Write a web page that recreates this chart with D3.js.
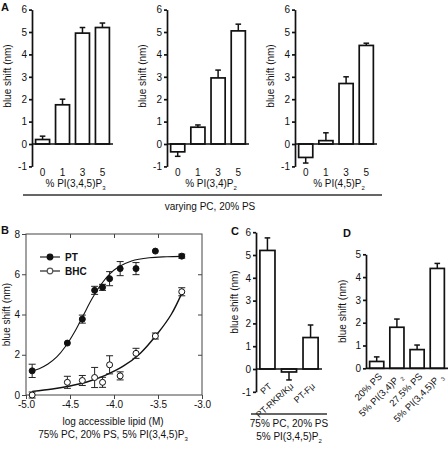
<!DOCTYPE html>
<html><head><meta charset="utf-8">
<script src="https://cdn.jsdelivr.net/npm/d3@7"></script>
<style>
body{margin:0;background:#fff}
text{font-family:"Liberation Sans",Arial,Helvetica,sans-serif;fill:#111}
</style>
</head><body>
<svg id="chart" width="448" height="459"></svg>
<script>
// ---------- Panel A ----------
const aCats = ["0", "1", "3", "5"];
const a1Vals = [0.2, 1.75, 4.95, 5.2];
const a1Errs = [0.15, 0.25, 0.25, 0.2];
const a2Vals = [-0.35, 0.75, 2.95, 5.05];
const a2Errs = [0.2, 0.1, 0.35, 0.3];
const a3Vals = [-0.6, 0.15, 2.7, 4.4];
const a3Errs = [0.25, 0.35, 0.3, 0.1];
const aYTicks = [-1, 0, 1, 2, 3, 4, 5, 6];
const aXLabels = [["% PI(3,4,5)P", "3"], ["% PI(3,4)P", "2"], ["% PI(4,5)P", "2"]];
const aGroupLabel = "varying PC, 20% PS";

// ---------- Panel B ----------
const bXTicks = [-5.0, -4.5, -4.0, -3.5, -3.0];
const bYTicks = [0, 2, 4, 6, 8];
const bLogLipid = [-4.93, -4.53, -4.36, -4.22, -4.13, -4.05, -3.93, -3.75, -3.53, -3.23];
const ptVals = [1.2, 2.58, 3.77, 5.2, 5.35, 5.78, 6.28, 6.28, 7.15, 6.9];
const ptErrs = [0.33, 0, 0.2, 0.2, 0.15, 0.35, 0.35, 0.3, 0, 0.1];
const bhcVals = [0.0, 0.63, 0.72, 0.87, 0.63, 1.5, 0.95, 2.07, 2.93, 5.13];
const bhcErrs = [0.15, 0.3, 0.25, 0.5, 0.25, 0.45, 0.2, 0.25, 0.15, 0.2];
const ptFitX = [-4.93, -4.85, -4.75, -4.65, -4.55, -4.45, -4.35, -4.25, -4.15, -4.05, -3.95, -3.8, -3.6, -3.4, -3.23];
const ptFitY = [1.2, 1.31, 1.54, 1.89, 2.42, 3.12, 3.95, 4.78, 5.48, 6.01, 6.36, 6.66, 6.82, 6.87, 6.89];
const bhcFitX = [-4.93, -4.7, -4.5, -4.3, -4.1, -3.9, -3.7, -3.5, -3.35, -3.23];
const bhcFitY = [0.18, 0.3, 0.45, 0.66, 0.98, 1.42, 2.08, 3.08, 4.0, 5.05];
const bXTitle = "log accessible lipid (M)";
const bNote = ["75% PC, 20% PS, 5% PI(3,4,5)P", "3"];
const bLegend = ["PT", "BHC"];

// ---------- Panel C ----------
const cCats = ["PT", "PT-RKR/K\u03bc", "PT-F\u03bc"];
const cVals = [5.2, -0.13, 1.38];
const cErrs = [0.55, 0.35, 0.55];
const cYTicks = [-1, 0, 1, 2, 3, 4, 5, 6];
const cNote1 = "75% PC, 20% PS";
const cNote2 = ["5% PI(3,4,5)P", "2"];

// ---------- Panel D ----------
const dCats = [["20% PS", ""], ["5% PI(3,4)P ", "2"], ["27.5% PS", ""], ["5% PI(3,4,5)P ", "3"]];
const dVals = [0.3, 1.8, 0.82, 4.38];
const dErrs = [0.2, 0.36, 0.2, 0.22];
const dYTicks = [0, 1, 2, 3, 4, 5];

const yTitle = "blue shift (nm)";

const svg = d3.select("#chart");
const FS = 10;

function subText(g, x, y, parts, opts = {}) {
  const t = g.append("text").attr("x", x).attr("y", y)
    .attr("font-size", opts.size || FS)
    .attr("text-anchor", opts.anchor || "middle");
  if (opts.transform) t.attr("transform", opts.transform);
  t.append("tspan").text(parts[0]);
  if (parts[1]) t.append("tspan").attr("font-size", (opts.size || FS) * 0.6).attr("dy", 3).text(parts[1]);
  return t;
}

function fmt(d) { return d < 0 ? "-" + Math.abs(d) : String(d); }

function barPanel(cfg) {
  const g = svg.append("g");
  const y = d3.scaleLinear().domain(cfg.yDomain).range(cfg.yRange);
  const x = d3.scaleBand().domain(d3.range(cfg.vals.length)).range([cfg.x0, cfg.x1])
    .paddingInner(0.3).paddingOuter(0.18);
  const ax = g.append("g").attr("transform", `translate(${cfg.x0},0)`)
    .call(d3.axisLeft(y).tickValues(cfg.ticks).tickFormat(fmt).tickSize(3).tickSizeOuter(0).tickPadding(2));
  ax.selectAll("path,line").attr("stroke", "#111").attr("stroke-width", 1.7);
  ax.selectAll("text").attr("font-size", FS).attr("font-family", "Liberation Sans, Arial, sans-serif").attr("fill", "#111");
  g.selectAll("rect.bar").data(cfg.vals).join("rect")
    .attr("x", (d, i) => x(i)).attr("width", x.bandwidth())
    .attr("y", d => y(Math.max(0, d))).attr("height", d => Math.abs(y(d) - y(0)))
    .attr("fill", "#fff").attr("stroke", "#111").attr("stroke-width", 1.7);
  cfg.vals.forEach((v, i) => {
    const e = cfg.errs[i];
    if (!e) return;
    const cx = x(i) + x.bandwidth() / 2;
    const tip = v >= 0 ? v + e : v - e;
    g.append("line").attr("x1", cx).attr("x2", cx).attr("y1", y(v)).attr("y2", y(tip))
      .attr("stroke", "#111").attr("stroke-width", 1.5);
    g.append("line").attr("x1", cx - 2.8).attr("x2", cx + 2.8).attr("y1", y(tip)).attr("y2", y(tip))
      .attr("stroke", "#111").attr("stroke-width", 1.5);
  });
  g.append("line").attr("x1", cfg.x0).attr("x2", cfg.x1).attr("y1", y(0)).attr("y2", y(0))
    .attr("stroke", "#111").attr("stroke-width", 1.7);
  const yc = (cfg.yRange[0] + cfg.yRange[1]) / 2 + (cfg.yTitleShift || 0);
  g.append("text").attr("transform", `translate(${cfg.x0 - cfg.yTitleOff},${yc}) rotate(-90)`)
    .attr("text-anchor", "middle").attr("font-size", FS).text(yTitle);
  return { g, x, y };
}

// ---- A ----
const aY = [166.4, 9.6];
const aPanels = [
  { x0: 32, x1: 113, vals: a1Vals, errs: a1Errs, off: 21 },
  { x0: 167, x1: 249, vals: a2Vals, errs: a2Errs, off: 21 },
  { x0: 295, x1: 377, vals: a3Vals, errs: a3Errs, off: 21 }
];
aPanels.forEach((p, k) => {
  const r = barPanel({ x0: p.x0, x1: p.x1, vals: p.vals, errs: p.errs, yDomain: [-1, 6], yRange: aY,
    ticks: aYTicks, yTitleOff: p.off, yTitleShift: -12 });
  aCats.forEach((c, i) => {
    r.g.append("text").attr("x", r.x(i) + r.x.bandwidth() / 2).attr("y", 176)
      .attr("text-anchor", "middle").attr("font-size", FS).text(c);
  });
  subText(r.g, (p.x0 + p.x1) / 2 + 3, 187, aXLabels[k]);
});
svg.append("line").attr("x1", 23).attr("x2", 382).attr("y1", 195).attr("y2", 195)
  .attr("stroke", "#333").attr("stroke-width", 1.5);
svg.append("text").attr("x", 210).attr("y", 210).attr("text-anchor", "middle").attr("font-size", FS).text(aGroupLabel);
svg.append("text").attr("x", 1).attr("y", 11).attr("font-size", 11).attr("font-weight", "bold").text("A");

// ---- B ----
{
  const g = svg.append("g");
  const x = d3.scaleLinear().domain([-5, -3]).range([26, 202]);
  const y = d3.scaleLinear().domain([0, 8]).range([395, 234]);
  g.append("rect").attr("x", x(-5)).attr("y", y(8)).attr("width", x(-3) - x(-5)).attr("height", y(0) - y(8))
    .attr("fill", "none").attr("stroke", "#444").attr("stroke-width", 1);
  const styleAx = a => {
    a.selectAll("path").attr("stroke", "none");
    a.selectAll("line").attr("stroke", "#444");
    a.selectAll("text").attr("font-size", FS).attr("font-family", "Liberation Sans, Arial, sans-serif").attr("fill", "#111");
  };
  g.append("g").attr("transform", `translate(0,${y(0)})`)
    .call(d3.axisBottom(x).tickValues(bXTicks).tickFormat(d => d.toFixed(1)).tickSize(4).tickPadding(2)).call(styleAx);
  g.append("g").attr("transform", `translate(${x(-5)},0)`)
    .call(d3.axisLeft(y).tickValues(bYTicks).tickSize(4).tickPadding(2)).call(styleAx);
  g.append("g").attr("transform", `translate(0,${y(8)})`)
    .call(d3.axisBottom(x).tickValues(bXTicks.slice(1, -1)).tickSize(4).tickFormat("")).call(styleAx);
  g.append("g").attr("transform", `translate(${x(-3)},0)`)
    .call(d3.axisLeft(y).tickValues(bYTicks.slice(1, -1)).tickSize(4).tickFormat("")).call(styleAx);

  const line = d3.line().x(d => x(d[0])).y(d => y(d[1])).curve(d3.curveCatmullRom);
  g.append("path").attr("d", line(ptFitX.map((v, i) => [v, ptFitY[i]])))
    .attr("fill", "none").attr("stroke", "#111").attr("stroke-width", 1.1);
  g.append("path").attr("d", line(bhcFitX.map((v, i) => [v, bhcFitY[i]])))
    .attr("fill", "none").attr("stroke", "#111").attr("stroke-width", 1.4);

  function series(vals, errs, filled) {
    vals.forEach((v, i) => {
      const cx = x(bLogLipid[i]);
      const e = errs[i];
      if (e) {
        g.append("line").attr("x1", cx).attr("x2", cx).attr("y1", y(v - e)).attr("y2", y(v + e)).attr("stroke", "#222").attr("stroke-width", 1);
        [v - e, v + e].forEach(t => g.append("line").attr("x1", cx - 3.5).attr("x2", cx + 3.5).attr("y1", y(t)).attr("y2", y(t)).attr("stroke", "#222").attr("stroke-width", 1));
      }
      g.append("circle").attr("cx", cx).attr("cy", y(v)).attr("r", 3)
        .attr("fill", filled ? "#111" : "#fff").attr("stroke", "#111").attr("stroke-width", 1);
    });
  }
  series(bhcVals, bhcErrs, false);
  series(ptVals, ptErrs, true);

  [[257, true], [271, false]].forEach(([ly, filled], k) => {
    g.append("line").attr("x1", 40).attr("x2", 60).attr("y1", ly).attr("y2", ly).attr("stroke", "#333").attr("stroke-width", 1.3);
    g.append("circle").attr("cx", 50).attr("cy", ly).attr("r", 2.8).attr("fill", filled ? "#111" : "#fff").attr("stroke", filled ? "#111" : "#555").attr("stroke-width", 1.2);
    g.append("text").attr("x", 65).attr("y", ly + 3.5).attr("font-size", FS).attr("font-weight", "bold").text(bLegend[k]);
  });

  g.append("text").attr("transform", `translate(10,${(y(0) + y(8)) / 2}) rotate(-90)`)
    .attr("text-anchor", "middle").attr("font-size", FS).text(yTitle);
  g.append("text").attr("x", 113).attr("y", 425).attr("text-anchor", "middle").attr("font-size", FS).text(bXTitle);
  subText(g, 113, 438, bNote);
  svg.append("text").attr("x", 1).attr("y", 234).attr("font-size", 11).attr("font-weight", "bold").text("B");
}

// ---- C ----
{
  const r = barPanel({ x0: 256, x1: 322, vals: cVals, errs: cErrs, yDomain: [-1, 6], yRange: [391.8, 232.2],
    ticks: cYTicks, yTitleOff: 18, yTitleShift: -10 });
  cCats.forEach((c, i) => {
    const cx = r.x(i) + r.x.bandwidth() / 2 + 5;
    r.g.append("text").attr("transform", `translate(${cx},387) rotate(-42)`)
      .attr("text-anchor", "end").attr("font-size", 9).text(c);
  });
  svg.append("line").attr("x1", 251).attr("x2", 327).attr("y1", 414).attr("y2", 414).attr("stroke", "#333").attr("stroke-width", 1.5);
  svg.append("text").attr("x", 289).attr("y", 427).attr("text-anchor", "middle").attr("font-size", FS).text(cNote1);
  subText(svg, 289, 440, cNote2);
  svg.append("text").attr("x", 231).attr("y", 235).attr("font-size", 11).attr("font-weight", "bold").text("C");
}

// ---- D ----
{
  const r = barPanel({ x0: 366, x1: 448, vals: dVals, errs: dErrs, yDomain: [0, 5], yRange: [368.3, 254.3],
    ticks: dYTicks, yTitleOff: 20, yTitleShift: 0 });
  dCats.forEach((c, i) => {
    const cx = r.x(i) + r.x.bandwidth() / 2 + 6;
    subText(r.g, cx, 377, c, { anchor: "end", size: 9.5, transform: `rotate(-45,${cx},377)` });
  });
  svg.append("text").attr("x", 343).attr("y", 237).attr("font-size", 11).attr("font-weight", "bold").text("D");
}
</script>
</body></html>
